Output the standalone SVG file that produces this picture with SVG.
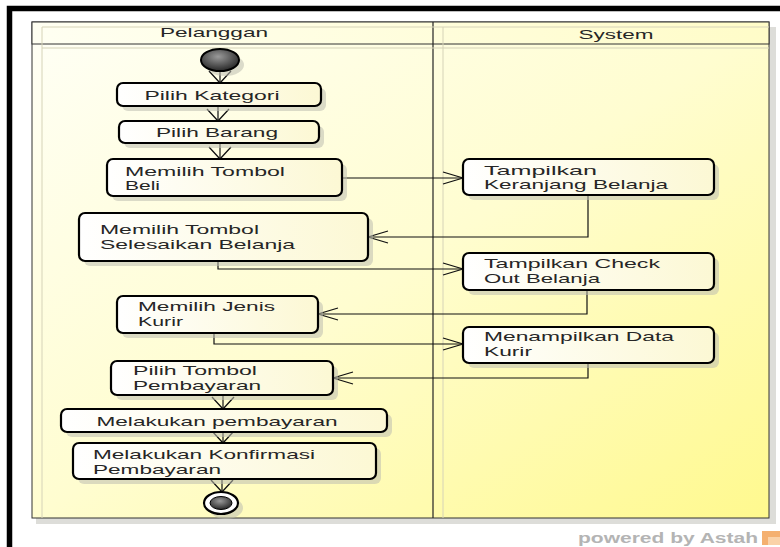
<svg xmlns="http://www.w3.org/2000/svg" width="780" height="547" viewBox="0 0 780 547">
<defs>
<linearGradient id="bg" x1="0" y1="0" x2="1" y2="1">
<stop offset="0" stop-color="#FFFFF6"/>
<stop offset="0.5" stop-color="#FFFDD0"/>
<stop offset="1" stop-color="#FFF98E"/>
</linearGradient>
<linearGradient id="hd" x1="0" y1="0" x2="1" y2="0">
<stop offset="0" stop-color="#FFFFF2"/>
<stop offset="1" stop-color="#FFFCC8"/>
</linearGradient>
<linearGradient id="nd" x1="0" y1="0" x2="1" y2="0">
<stop offset="0" stop-color="#FFFFFF"/>
<stop offset="1" stop-color="#FCF8D4"/>
</linearGradient>
<radialGradient id="ball" cx="0.45" cy="0.35" r="0.7">
<stop offset="0" stop-color="#9A9A9A"/>
<stop offset="1" stop-color="#1E1E1E"/>
</radialGradient>
<marker id="arrH" markerUnits="userSpaceOnUse" orient="auto" markerWidth="24" markerHeight="16" refX="22" refY="8" viewBox="0 0 24 16">
<path d="M2,2 L22,8 L2,14" fill="none" stroke="#111" stroke-width="1.3"/>
</marker>
<marker id="arrV" markerUnits="userSpaceOnUse" orient="auto" markerWidth="16" markerHeight="26" refX="14" refY="13" viewBox="0 0 16 26">
<path d="M2,2 L14,13 L2,24" fill="none" stroke="#111" stroke-width="1.3"/>
</marker>
</defs>
<style>
.lbl{font-family:"Liberation Sans",Arial,sans-serif;font-size:13px;fill:#262626}
.hdr{font-family:"Liberation Sans",Arial,sans-serif;font-size:13px;fill:#262626}
.box{fill:url(#nd);stroke:#000;stroke-width:2.2}
.shd{fill:#BDBDB0;opacity:0.55}
.con{fill:none;stroke:#111;stroke-width:1.2}
.faint{fill:none;stroke:#D6D3B8;stroke-width:1}
</style>
<rect width="780" height="547" fill="#FFFFFF"/>
<path d="M9.5,547 V8.5 H780" fill="none" stroke="#000" stroke-width="5.5"/>
<g id="swimlane">
<rect x="36" y="27" width="740" height="497" fill="#D4D4D0" opacity="0.8"/>
<rect x="32" y="22" width="737" height="496" fill="url(#bg)" stroke="#333" stroke-width="1"/>
<rect x="32" y="22" width="737" height="22" fill="url(#hd)" stroke="#333" stroke-width="1"/>
<line x1="433" y1="22" x2="433" y2="518" stroke="#222" stroke-width="1.2"/>
<path class="faint" d="M42,27 V518 M443,27 V518 M42,27 H769 M42,48 H769"/>
<text class="hdr" x="214" y="37" text-anchor="middle" textLength="108" lengthAdjust="spacingAndGlyphs">Pelanggan</text>
<text class="hdr" x="616" y="39" text-anchor="middle" textLength="75" lengthAdjust="spacingAndGlyphs">System</text>
</g>
<g id="connectors">
<line class="con" x1="220" y1="71" x2="220" y2="83" marker-end="url(#arrV)"/>
<line class="con" x1="218" y1="106" x2="218" y2="121" marker-end="url(#arrV)"/>
<line class="con" x1="220" y1="143" x2="220" y2="159" marker-end="url(#arrV)"/>
<line class="con" x1="342" y1="178" x2="463" y2="178" marker-end="url(#arrH)"/>
<polyline class="con" points="588,195 588,237 368,237" marker-end="url(#arrH)"/>
<polyline class="con" points="218,261 218,269 463,269" marker-end="url(#arrH)"/>
<polyline class="con" points="587,290 587,314 318,314" marker-end="url(#arrH)"/>
<polyline class="con" points="214,333 214,344 463,344" marker-end="url(#arrH)"/>
<polyline class="con" points="588,363 588,378 333,378" marker-end="url(#arrH)"/>
<line class="con" x1="223" y1="395" x2="223" y2="409" marker-end="url(#arrV)"/>
<line class="con" x1="223" y1="432" x2="223" y2="443" marker-end="url(#arrV)"/>
<line class="con" x1="222" y1="479" x2="222" y2="492" marker-end="url(#arrV)"/>
</g>
<g id="start">
<ellipse cx="225" cy="65" rx="19" ry="11" class="shd"/>
<ellipse cx="220" cy="60" rx="19" ry="11" fill="url(#ball)" stroke="#000" stroke-width="2"/>
</g>
<g id="pilih-kategori">
<rect x="122" y="88" width="204" height="23" rx="6" class="shd"/>
<rect x="117" y="83" width="204" height="23" rx="6" class="box"/>
<text class="lbl" x="212" y="100" text-anchor="middle" textLength="135" lengthAdjust="spacingAndGlyphs">Pilih Kategori</text>
</g>
<g id="pilih-barang">
<rect x="124" y="126" width="200" height="22" rx="6" class="shd"/>
<rect x="119" y="121" width="200" height="22" rx="6" class="box"/>
<text class="lbl" x="217" y="137" text-anchor="middle" textLength="122" lengthAdjust="spacingAndGlyphs">Pilih Barang</text>
</g>
<g id="memilih-tombol-beli">
<rect x="112" y="164" width="235" height="37" rx="6" class="shd"/>
<rect x="107" y="159" width="235" height="37" rx="6" class="box"/>
<text class="lbl" x="125" y="176" textLength="160" lengthAdjust="spacingAndGlyphs">Memilih Tombol</text>
<text class="lbl" x="125" y="190" textLength="35" lengthAdjust="spacingAndGlyphs">Beli</text>
</g>
<g id="tampilkan-keranjang">
<rect x="468" y="164" width="251" height="36" rx="6" class="shd"/>
<rect x="463" y="159" width="251" height="36" rx="6" class="box"/>
<text class="lbl" x="484" y="175" textLength="113" lengthAdjust="spacingAndGlyphs">Tampilkan</text>
<text class="lbl" x="484" y="189" textLength="184" lengthAdjust="spacingAndGlyphs">Keranjang Belanja</text>
</g>
<g id="selesaikan-belanja">
<rect x="84" y="218" width="289" height="48" rx="6" class="shd"/>
<rect x="79" y="213" width="289" height="48" rx="6" class="box"/>
<text class="lbl" x="100" y="234" textLength="159" lengthAdjust="spacingAndGlyphs">Memilih Tombol</text>
<text class="lbl" x="100" y="249" textLength="195" lengthAdjust="spacingAndGlyphs">Selesaikan Belanja</text>
</g>
<g id="tampilkan-checkout">
<rect x="468" y="258" width="251" height="37" rx="6" class="shd"/>
<rect x="463" y="253" width="251" height="37" rx="6" class="box"/>
<text class="lbl" x="484" y="268" textLength="176" lengthAdjust="spacingAndGlyphs">Tampilkan Check</text>
<text class="lbl" x="484" y="283" textLength="116" lengthAdjust="spacingAndGlyphs">Out Belanja</text>
</g>
<g id="memilih-jenis-kurir">
<rect x="122" y="301" width="201" height="37" rx="6" class="shd"/>
<rect x="117" y="296" width="201" height="37" rx="6" class="box"/>
<text class="lbl" x="138" y="311" textLength="137" lengthAdjust="spacingAndGlyphs">Memilih Jenis</text>
<text class="lbl" x="138" y="326" textLength="45" lengthAdjust="spacingAndGlyphs">Kurir</text>
</g>
<g id="menampilkan-data-kurir">
<rect x="468" y="332" width="251" height="36" rx="6" class="shd"/>
<rect x="463" y="327" width="251" height="36" rx="6" class="box"/>
<text class="lbl" x="484" y="341" textLength="190" lengthAdjust="spacingAndGlyphs">Menampilkan Data</text>
<text class="lbl" x="484" y="356" textLength="48" lengthAdjust="spacingAndGlyphs">Kurir</text>
</g>
<g id="pilih-tombol-pembayaran">
<rect x="116" y="366" width="222" height="34" rx="6" class="shd"/>
<rect x="111" y="361" width="222" height="34" rx="6" class="box"/>
<text class="lbl" x="133" y="375" textLength="124" lengthAdjust="spacingAndGlyphs">Pilih Tombol</text>
<text class="lbl" x="133" y="390" textLength="128" lengthAdjust="spacingAndGlyphs">Pembayaran</text>
</g>
<g id="melakukan-pembayaran">
<rect x="66" y="414" width="326" height="23" rx="6" class="shd"/>
<rect x="61" y="409" width="326" height="23" rx="6" class="box"/>
<text class="lbl" x="217" y="426" text-anchor="middle" textLength="241" lengthAdjust="spacingAndGlyphs">Melakukan pembayaran</text>
</g>
<g id="konfirmasi-pembayaran">
<rect x="78" y="448" width="303" height="36" rx="6" class="shd"/>
<rect x="73" y="443" width="303" height="36" rx="6" class="box"/>
<text class="lbl" x="93" y="459" textLength="222" lengthAdjust="spacingAndGlyphs">Melakukan Konfirmasi</text>
<text class="lbl" x="93" y="474" textLength="128" lengthAdjust="spacingAndGlyphs">Pembayaran</text>
</g>
<g id="end">
<ellipse cx="226" cy="508" rx="17" ry="11" class="shd"/>
<ellipse cx="221" cy="503" rx="17" ry="11" fill="#FFFFFF" stroke="#000" stroke-width="2.2"/>
<ellipse cx="221" cy="503" rx="11" ry="6.5" fill="url(#ball)" stroke="#000" stroke-width="1"/>
</g>
<g id="watermark">
<text x="578" y="543" font-family="'Liberation Sans',Arial,sans-serif" font-size="14" font-weight="bold" fill="#B4B4B4" textLength="180" lengthAdjust="spacingAndGlyphs">powered by Astah</text>
<rect x="762" y="531" width="18" height="14" fill="#F4B070"/>
<rect x="768" y="537" width="12" height="8" fill="#FAD2A8"/>
</g>
</svg>
